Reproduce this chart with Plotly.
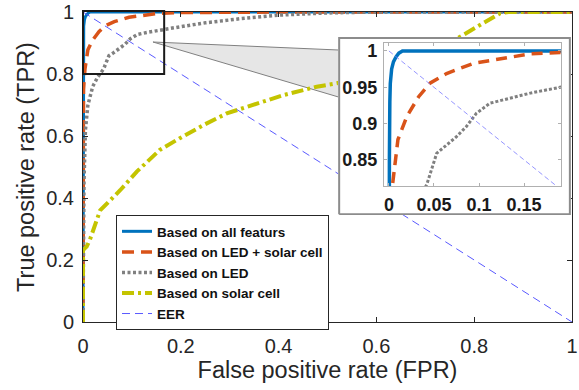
import plotly.graph_objects as go

# ---------------- data ----------------
fpr_all = [0, 0, 0.0005, 0.001, 0.0015, 0.003, 0.005, 0.008, 0.011, 0.015, 0.2, 0.5, 1.0]
tpr_all = [0, 0.5, 0.85, 0.93, 0.955, 0.975, 0.985, 0.992, 0.997, 1.0, 1.0, 1.0, 1.0]

fpr_led_solar = [0, 0, 0.001, 0.004, 0.01, 0.02, 0.033, 0.046, 0.064, 0.094, 0.126, 0.157, 0.19, 0.25, 0.32, 0.4, 1.0]
tpr_led_solar = [0, 0.6, 0.75, 0.816, 0.878, 0.91, 0.937, 0.956, 0.969, 0.983, 0.990, 0.996, 0.998, 0.999, 1.0, 1.0, 1.0]

fpr_led = [0, 0.002, 0.005, 0.01, 0.02, 0.03, 0.042, 0.053, 0.062, 0.075, 0.086, 0.097, 0.112, 0.134, 0.157, 0.19, 0.25, 0.32, 0.4, 0.5, 0.6, 1.0]
tpr_led = [0, 0.45, 0.62, 0.70, 0.76, 0.79, 0.816, 0.859, 0.868, 0.882, 0.896, 0.914, 0.928, 0.935, 0.942, 0.950, 0.965, 0.978, 0.99, 0.997, 1.0, 1.0]

fpr_solar = [0, 0, 0.0075, 0.014, 0.035, 0.062, 0.076, 0.11, 0.157, 0.198, 0.246, 0.294, 0.348, 0.41, 0.478, 0.519, 0.6, 0.7, 0.771, 0.812, 0.853, 0.87, 1.0]
tpr_solar = [0, 0.232, 0.243, 0.265, 0.36, 0.40, 0.425, 0.485, 0.555, 0.593, 0.635, 0.673, 0.70, 0.732, 0.759, 0.77, 0.80, 0.855, 0.92, 0.958, 0.996, 1.0, 1.0]

eer_x = [0, 1]
eer_y = [1, 0]

names = ["Based on all featurs", "Based on LED + solar cell", "Based on LED", "Based on solar cell", "EER"]
main_ticks = [0, 0.2, 0.4, 0.6, 0.8, 1]
inset_xticks = [0, 0.05, 0.1, 0.15]
inset_yticks = [0.85, 0.9, 0.95, 1]
frame_x = [0, 1, 1, 0, 0]
frame_y = [0, 0, 1, 1, 0]

# ---------------- styles ----------------
C_BLUE = "#0072BD"
C_ORANGE = "#D95319"
C_GRAY = "#808080"
C_YELLOW = "#C4C400"
C_EER = "#5a5aff"
FONT = "Liberation Sans, Arial, sans-serif"
AXC = "#262626"

fig = go.Figure()

curves = [
    (fpr_all, tpr_all, names[0], dict(color=C_BLUE, width=3)),
    (fpr_led_solar, tpr_led_solar, names[1], dict(color=C_ORANGE, width=3.5, dash="12px,7px")),
    (fpr_led, tpr_led, names[2], dict(color=C_GRAY, width=3.5, dash="3px,2.5px")),
    (fpr_solar, tpr_solar, names[3], dict(color=C_YELLOW, width=4, dash="12px,4px,3px,4px")),
    (eer_x, eer_y, names[4], dict(color=C_EER, width=1, dash="8px,5px")),
]

# main axes (x, y)
for xs, ys, nm, ln in curves:
    fig.add_trace(go.Scatter(x=xs, y=ys, mode="lines", name=nm, line=ln,
                             xaxis="x", yaxis="y", hoverinfo="skip"))

# inset backdrop (x2, y2)
fig.add_trace(go.Scatter(x=frame_x, y=frame_y, mode="lines", fill="toself",
                         fillcolor="white", line=dict(color="#8c8c8c", width=2),
                         xaxis="x2", yaxis="y2", showlegend=False, hoverinfo="skip"))

# inset curves (x3, y3)
inset_styles = [
    dict(color=C_BLUE, width=3.5),
    dict(color=C_ORANGE, width=3.5, dash="11px,7px"),
    dict(color=C_GRAY, width=3, dash="3px,2px"),
    dict(color=C_YELLOW, width=3.5, dash="12px,4px,3px,4px"),
    dict(color="#7a7aff", width=0.8, dash="5px,3px"),
]
for (xs, ys, nm, _), ln in zip(curves, inset_styles):
    fig.add_trace(go.Scatter(x=xs, y=ys, mode="lines", name=nm, line=ln,
                             xaxis="x3", yaxis="y3", showlegend=False, hoverinfo="skip"))

# connector triangle and zoom rectangle
fig.add_shape(type="path", xref="paper", yref="paper",
              path="M 0.1431 0.9032 L 0.5225 0.8774 L 0.5225 0.7258 Z",
              fillcolor="#e6e6e6", line=dict(color="#808080", width=1), layer="below")
fig.add_shape(type="rect", xref="paper", yref="paper", x0=0.0, x1=0.166, y0=0.8, y1=1.003,
              line=dict(color="#1a1a1a", width=2), layer="above")

axis_common = dict(showline=True, mirror="ticks", linecolor=AXC, linewidth=1,
                   ticks="inside", ticklen=5, tickcolor=AXC, showgrid=False, zeroline=False,
                   automargin=False)

fig.update_layout(
    width=579, height=390,
    margin=dict(l=83, r=7, t=12, b=68),
    paper_bgcolor="white", plot_bgcolor="white",
    font=dict(family=FONT, color=AXC),
    showlegend=True,
    xaxis=dict(range=[0, 1], tickvals=main_ticks, domain=[0, 1],
               tickfont=dict(size=20, color=AXC), ticklabelstandoff=6,
               title=dict(text="False positive rate (FPR)", font=dict(size=23.5, color=AXC), standoff=4),
               **axis_common),
    yaxis=dict(range=[0, 1], tickvals=main_ticks, domain=[0, 1],
               tickfont=dict(size=20, color=AXC), ticklabelstandoff=4,
               title=dict(text="True positive rate (TPR)", font=dict(size=23.5, color=AXC), standoff=4),
               **axis_common),
    xaxis2=dict(domain=[0.5215, 0.998], range=[-0.005, 1.005], visible=False, fixedrange=True,
                automargin=False),
    yaxis2=dict(domain=[0.345, 0.919], range=[-0.005, 1.005], visible=False, fixedrange=True,
                anchor="x2", automargin=False),
    xaxis3=dict(domain=[0.6155, 0.9775], range=[-0.0055, 0.191], tickvals=inset_xticks,
                anchor="y3", showline=True, mirror="ticks", linecolor="#b0b0b0", linewidth=1,
                ticks="inside", ticklen=3, tickcolor="#b0b0b0", showgrid=False, zeroline=False,
                automargin=False,
                tickfont=dict(size=18, color="#1a1a1a", weight="bold"), ticklabelstandoff=2),
    yaxis3=dict(domain=[0.4387, 0.9], range=[0.814, 1.011], tickvals=inset_yticks,
                anchor="x3", showline=True, mirror="ticks", linecolor="#b0b0b0", linewidth=1,
                ticks="inside", ticklen=3, tickcolor="#b0b0b0", showgrid=False, zeroline=False,
                automargin=False,
                tickfont=dict(size=18, color="#1a1a1a", weight="bold"), ticklabelstandoff=2),
    legend=dict(x=0.0675, y=0.345, xanchor="left", yanchor="top",
                bgcolor="white", bordercolor=AXC, borderwidth=1,
                font=dict(size=13.5, color="#111111", weight="bold", family=FONT),
                itemwidth=30, tracegroupgap=0),
)
fig.update_layout(xaxis2_anchor="y2")

fig.write_html("out.html", config={"displayModeBar": False},
               post_script="document.body.style.margin='0';document.body.style.overflow='hidden';")
